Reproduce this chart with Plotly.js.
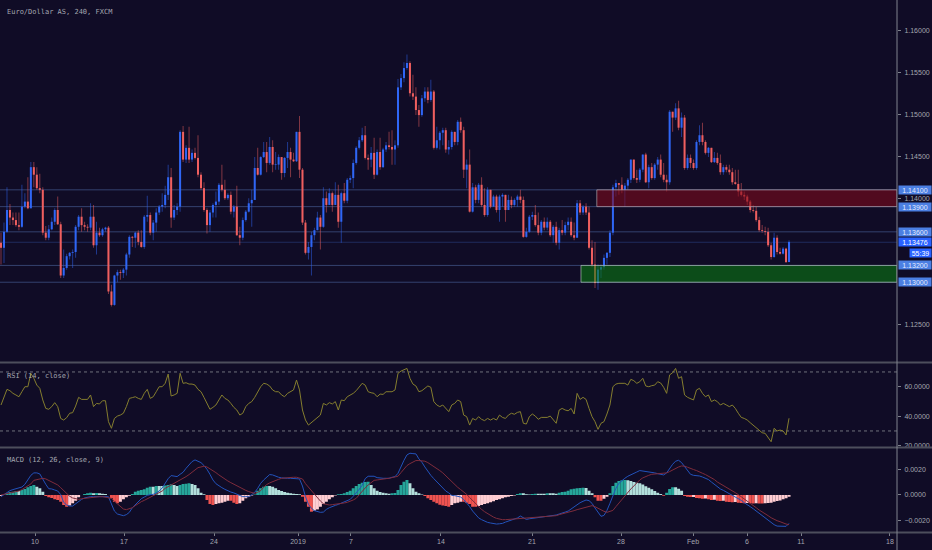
<!DOCTYPE html>
<html>
<head>
<meta charset="utf-8">
<script src="https://cdn.plot.ly/plotly-3.0.1.min.js"></script>
<style>
html,body{margin:0;padding:0;background:#100c26;}
#chart{width:932px;height:550px;}
</style>
</head>
<body>
<div id="chart"></div>
<script>
// ---------------- DATA (EUR/USD, 4h candles, FXCM) ----------------
const opens = [1.1347,1.1341,1.1360,1.1386,1.1377,1.1374,1.1368,1.1366,1.1390,1.1396,
1.1388,1.1437,1.1428,1.1412,1.1410,1.1359,1.1353,1.1363,1.1372,1.1386,
1.1369,1.1308,1.1317,1.1331,1.1335,1.1336,1.1366,1.1378,1.1368,1.1366,
1.1365,1.1378,1.1344,1.1359,1.1356,1.1363,1.1365,1.1289,1.1273,1.1308,
1.1312,1.1311,1.1315,1.1333,1.1354,1.1353,1.1359,1.1348,1.1342,1.1378,
1.1380,1.1359,1.1371,1.1383,1.1390,1.1392,1.1404,1.1425,1.1377,1.1386,
1.1390,1.1479,1.1446,1.1460,1.1446,1.1454,1.1448,1.1428,1.1412,1.1386,
1.1368,1.1383,1.1392,1.1396,1.1416,1.1410,1.1400,1.1404,1.1384,1.1390,
1.1356,1.1353,1.1374,1.1384,1.1394,1.1398,1.1436,1.1428,1.1449,1.1455,
1.1442,1.1461,1.1440,1.1440,1.1449,1.1430,1.1448,1.1455,1.1446,1.1444,
1.1479,1.1434,1.1371,1.1335,1.1342,1.1356,1.1362,1.1377,1.1366,1.1400,
1.1392,1.1406,1.1392,1.1404,1.1372,1.1406,1.1397,1.1422,1.1424,1.1442,
1.1460,1.1469,1.1475,1.1448,1.1446,1.1454,1.1428,1.1455,1.1437,1.1458,
1.1463,1.1461,1.1458,1.1463,1.1532,1.1543,1.1555,1.1561,1.1525,1.1521,
1.1505,1.1499,1.1519,1.1527,1.1517,1.1527,1.1460,1.1469,1.1478,1.1481,
1.1458,1.1461,1.1479,1.1467,1.1491,1.1481,1.1434,1.1440,1.1384,1.1413,
1.1398,1.1416,1.1392,1.1380,1.1410,1.1390,1.1402,1.1386,1.1402,1.1404,
1.1386,1.1398,1.1392,1.1398,1.1402,1.1398,1.1354,1.1360,1.1378,1.1380,
1.1368,1.1359,1.1372,1.1365,1.1372,1.1356,1.1366,1.1347,1.1362,1.1359,
1.1368,1.1372,1.1356,1.1353,1.1394,1.1383,1.1390,1.1383,1.1341,1.1321,
1.1299,1.1315,1.1318,1.1329,1.1335,1.1359,1.1413,1.1418,1.1416,1.1410,
1.1415,1.1422,1.1446,1.1424,1.1422,1.1434,1.1452,1.1419,1.1437,1.1424,
1.1440,1.1446,1.1428,1.1422,1.1419,1.1503,1.1496,1.1507,1.1484,1.1496,
1.1436,1.1448,1.1442,1.1436,1.1467,1.1475,1.1467,1.1454,1.1460,1.1443,
1.1448,1.1442,1.1431,1.1437,1.1434,1.1431,1.1419,1.1417,1.1408,1.1404,
1.1402,1.1396,1.1386,1.1385,1.1374,1.1362,1.1361,1.1360,1.1344,1.1330,
1.1353,1.1336,1.1334,1.1340,1.1324];

const highs = [1.1359,1.1371,1.1413,1.1393,1.1383,1.1383,1.1383,1.1416,1.1406,1.1425,
1.1443,1.1443,1.1437,1.1429,1.1413,1.1367,1.1368,1.1377,1.1388,1.1402,
1.1372,1.1339,1.1334,1.1336,1.1339,1.1368,1.1380,1.1388,1.1372,1.1369,
1.1394,1.1392,1.1372,1.1365,1.1365,1.1366,1.1367,1.1297,1.1309,1.1315,
1.1315,1.1317,1.1335,1.1356,1.1355,1.1360,1.1362,1.1362,1.1380,1.1403,
1.1383,1.1374,1.1388,1.1392,1.1406,1.1415,1.1440,1.1436,1.1392,1.1394,
1.1481,1.1486,1.1463,1.1485,1.1458,1.1460,1.1475,1.1431,1.1419,1.1388,
1.1386,1.1394,1.1408,1.1418,1.1440,1.1422,1.1406,1.1408,1.1392,1.1415,
1.1366,1.1377,1.1386,1.1400,1.1410,1.1449,1.1460,1.1450,1.1467,1.1467,
1.1473,1.1469,1.1455,1.1452,1.1443,1.1449,1.1467,1.1460,1.1454,1.1479,
1.1498,1.1436,1.1374,1.1348,1.1360,1.1365,1.1384,1.1380,1.1413,1.1408,
1.1412,1.1408,1.1419,1.1416,1.1408,1.1418,1.1424,1.1427,1.1446,1.1462,
1.1473,1.1484,1.1486,1.1452,1.1461,1.1472,1.1458,1.1472,1.1460,1.1467,
1.1479,1.1481,1.1469,1.1542,1.1548,1.1562,1.1571,1.1563,1.1547,1.1532,
1.1511,1.1523,1.1532,1.1532,1.1541,1.1529,1.1485,1.1480,1.1484,1.1484,
1.1469,1.1481,1.1479,1.1493,1.1496,1.1485,1.1446,1.1458,1.1418,1.1416,
1.1418,1.1425,1.1412,1.1413,1.1410,1.1404,1.1404,1.1404,1.1406,1.1404,
1.1404,1.1402,1.1400,1.1404,1.1410,1.1402,1.1365,1.1380,1.1384,1.1392,
1.1383,1.1374,1.1377,1.1377,1.1374,1.1368,1.1372,1.1365,1.1374,1.1372,
1.1377,1.1377,1.1371,1.1398,1.1398,1.1392,1.1394,1.1390,1.1350,1.1348,
1.1321,1.1321,1.1333,1.1336,1.1362,1.1416,1.1422,1.1418,1.1425,1.1418,
1.1424,1.1446,1.1440,1.1434,1.1436,1.1452,1.1454,1.1440,1.1442,1.1442,
1.1449,1.1452,1.1442,1.1428,1.1505,1.1502,1.1513,1.1516,1.1502,1.1499,
1.1452,1.1452,1.1446,1.1469,1.1487,1.1490,1.1469,1.1461,1.1460,1.1455,
1.1454,1.1452,1.1440,1.1440,1.1440,1.1436,1.1434,1.1434,1.1418,1.1408,
1.1404,1.1398,1.1392,1.1390,1.1378,1.1368,1.1366,1.1365,1.1347,1.1359,
1.1356,1.1341,1.1342,1.1341,1.1350];

const lows = [1.1321,1.1323,1.1359,1.1368,1.1368,1.1366,1.1362,1.1365,1.1388,1.1387,
1.1388,1.1413,1.1410,1.1406,1.1356,1.1350,1.1350,1.1362,1.1368,1.1368,
1.1305,1.1305,1.1315,1.1327,1.1317,1.1329,1.1362,1.1360,1.1362,1.1360,
1.1362,1.1341,1.1333,1.1354,1.1354,1.1360,1.1286,1.1271,1.1272,1.1300,
1.1303,1.1305,1.1308,1.1329,1.1342,1.1341,1.1344,1.1341,1.1340,1.1372,
1.1356,1.1350,1.1360,1.1380,1.1384,1.1388,1.1398,1.1365,1.1374,1.1380,
1.1384,1.1443,1.1442,1.1442,1.1443,1.1446,1.1425,1.1410,1.1384,1.1358,
1.1360,1.1377,1.1377,1.1392,1.1408,1.1398,1.1398,1.1381,1.1377,1.1355,
1.1344,1.1350,1.1372,1.1383,1.1366,1.1398,1.1427,1.1427,1.1448,1.1431,
1.1440,1.1431,1.1434,1.1434,1.1422,1.1425,1.1436,1.1425,1.1443,1.1443,
1.1424,1.1368,1.1333,1.1327,1.1308,1.1350,1.1362,1.1339,1.1365,1.1383,
1.1392,1.1384,1.1392,1.1365,1.1347,1.1394,1.1394,1.1418,1.1412,1.1440,
1.1458,1.1467,1.1446,1.1434,1.1437,1.1423,1.1427,1.1434,1.1436,1.1455,
1.1458,1.1440,1.1440,1.1460,1.1529,1.1538,1.1553,1.1521,1.1517,1.1499,
1.1485,1.1497,1.1515,1.1513,1.1515,1.1458,1.1458,1.1458,1.1463,1.1454,
1.1452,1.1458,1.1463,1.1463,1.1478,1.1424,1.1412,1.1383,1.1383,1.1394,
1.1394,1.1390,1.1378,1.1378,1.1388,1.1390,1.1383,1.1372,1.1390,1.1372,
1.1386,1.1388,1.1390,1.1390,1.1394,1.1353,1.1353,1.1359,1.1374,1.1366,
1.1356,1.1356,1.1362,1.1362,1.1354,1.1347,1.1344,1.1339,1.1356,1.1356,
1.1362,1.1354,1.1350,1.1353,1.1380,1.1380,1.1380,1.1339,1.1318,1.1293,
1.1291,1.1305,1.1315,1.1321,1.1330,1.1356,1.1402,1.1404,1.1406,1.1390,
1.1410,1.1418,1.1422,1.1418,1.1419,1.1431,1.1418,1.1412,1.1422,1.1422,
1.1434,1.1425,1.1419,1.1408,1.1416,1.1479,1.1493,1.1481,1.1473,1.1434,
1.1434,1.1436,1.1434,1.1434,1.1463,1.1463,1.1452,1.1449,1.1442,1.1442,
1.1440,1.1428,1.1428,1.1431,1.1428,1.1416,1.1416,1.1402,1.1402,1.1398,
1.1392,1.1383,1.1383,1.1372,1.1360,1.1359,1.1356,1.1342,1.1327,1.1329,
1.1333,1.1333,1.1333,1.1323,1.1324];

const closes = [1.1341,1.1360,1.1386,1.1377,1.1374,1.1368,1.1366,1.1390,1.1396,1.1388,
1.1437,1.1428,1.1412,1.1410,1.1359,1.1353,1.1363,1.1372,1.1386,1.1369,
1.1308,1.1317,1.1331,1.1335,1.1336,1.1366,1.1378,1.1368,1.1366,1.1365,
1.1378,1.1344,1.1359,1.1356,1.1363,1.1365,1.1289,1.1273,1.1308,1.1312,
1.1311,1.1315,1.1333,1.1354,1.1353,1.1359,1.1348,1.1342,1.1378,1.1380,
1.1359,1.1371,1.1383,1.1390,1.1392,1.1404,1.1425,1.1377,1.1386,1.1390,
1.1479,1.1446,1.1460,1.1446,1.1454,1.1448,1.1428,1.1412,1.1386,1.1368,
1.1383,1.1392,1.1396,1.1416,1.1410,1.1400,1.1404,1.1384,1.1390,1.1356,
1.1353,1.1374,1.1384,1.1394,1.1398,1.1436,1.1428,1.1449,1.1455,1.1442,
1.1461,1.1440,1.1440,1.1449,1.1430,1.1448,1.1455,1.1446,1.1444,1.1479,
1.1434,1.1371,1.1335,1.1342,1.1356,1.1362,1.1377,1.1366,1.1400,1.1392,
1.1406,1.1392,1.1404,1.1372,1.1406,1.1397,1.1422,1.1424,1.1442,1.1460,
1.1469,1.1475,1.1448,1.1446,1.1454,1.1428,1.1455,1.1437,1.1458,1.1463,
1.1461,1.1458,1.1463,1.1532,1.1543,1.1555,1.1561,1.1525,1.1521,1.1505,
1.1499,1.1519,1.1527,1.1517,1.1527,1.1460,1.1469,1.1478,1.1481,1.1458,
1.1461,1.1479,1.1467,1.1491,1.1481,1.1434,1.1440,1.1384,1.1413,1.1398,
1.1416,1.1392,1.1380,1.1410,1.1390,1.1402,1.1386,1.1402,1.1404,1.1386,
1.1398,1.1392,1.1398,1.1402,1.1398,1.1354,1.1360,1.1378,1.1380,1.1368,
1.1359,1.1372,1.1365,1.1372,1.1356,1.1366,1.1347,1.1362,1.1359,1.1368,
1.1372,1.1356,1.1353,1.1394,1.1383,1.1390,1.1383,1.1341,1.1321,1.1299,
1.1315,1.1318,1.1329,1.1335,1.1359,1.1413,1.1418,1.1416,1.1410,1.1415,
1.1422,1.1446,1.1424,1.1422,1.1434,1.1452,1.1419,1.1437,1.1424,1.1440,
1.1446,1.1428,1.1422,1.1419,1.1503,1.1496,1.1507,1.1484,1.1496,1.1436,
1.1448,1.1442,1.1436,1.1467,1.1475,1.1467,1.1454,1.1460,1.1443,1.1448,
1.1442,1.1431,1.1437,1.1434,1.1431,1.1419,1.1417,1.1408,1.1404,1.1402,
1.1396,1.1386,1.1385,1.1374,1.1362,1.1361,1.1360,1.1344,1.1330,1.1353,
1.1336,1.1334,1.1340,1.1324,1.1348];

const rsi = [47.6,53.2,58.2,57.3,55.5,54.4,53.2,56.6,60.0,60.0,
69.0,65.7,61.1,58.9,51.0,45.3,44.7,46.5,49.2,46.5,
38.5,37.4,39.0,42.0,42.4,46.9,52.8,51.4,51.4,51.4,
54.4,46.5,48.7,48.3,50.5,50.5,36.3,31.8,38.5,40.1,
40.8,42.0,46.5,52.1,52.6,53.2,52.1,51.4,55.5,58.2,
52.1,53.2,56.6,60.0,60.0,62.3,68.6,53.7,54.4,55.5,
69.1,62.3,62.7,61.8,61.8,61.1,58.2,56.6,52.8,48.7,
44.7,46.0,47.6,51.0,54.4,52.1,51.0,48.7,46.0,44.2,
40.8,42.0,46.5,48.7,49.9,52.8,56.6,60.0,62.3,61.8,
60.5,57.8,56.6,56.6,54.4,53.2,55.5,56.6,57.8,64.5,
57.8,44.2,37.4,34.0,35.6,37.4,39.2,40.8,48.7,47.6,
49.2,48.3,49.9,44.2,51.0,50.5,53.2,54.4,55.5,57.3,
60.0,62.3,61.1,56.6,55.9,55.5,53.2,55.0,54.8,56.6,
56.6,56.6,57.8,69.1,70.6,71.3,72.4,65.7,61.8,60.5,
56.6,57.3,58.9,60.5,59.6,49.9,47.6,46.5,47.6,45.3,
43.1,47.6,48.7,51.0,49.9,40.8,39.7,34.0,38.5,37.4,
39.7,37.9,37.0,38.5,37.4,38.5,37.4,40.8,39.2,38.5,
40.8,42.0,41.3,42.6,43.1,35.2,34.7,39.7,41.5,40.1,
37.9,39.2,39.2,39.2,40.1,37.9,35.2,44.2,45.3,44.2,
43.7,45.3,41.5,55.5,51.4,52.8,51.4,45.3,39.7,36.3,
31.1,35.2,36.3,41.5,47.6,60.0,61.8,62.3,62.3,62.3,
61.1,65.0,64.1,62.3,63.4,65.7,60.5,60.0,60.7,61.1,
63.4,62.5,59.6,55.5,68.0,69.5,72.4,65.7,66.8,54.4,
52.8,52.1,51.0,57.8,58.9,55.5,53.2,54.4,49.9,51.0,
49.9,47.6,48.7,47.6,46.5,47.6,45.3,42.0,39.2,38.5,
37.4,35.6,34.0,31.8,30.2,28.8,28.4,25.7,22.7,31.8,
30.0,30.6,30.0,27.3,38.6];

const macdLine = [-0.00013,0.00005,0.00023,0.00034,0.00042,0.00047,0.00055,0.00062,0.00083,0.00117,
0.00153,0.00172,0.00172,0.00164,0.00117,0.00083,0.00049,0.00047,0.00039,0.00031,
0.00003,-0.00057,-0.00078,-0.00086,-0.00086,-0.00068,-0.00049,-0.00034,-0.00023,-0.00016,
-0.00013,-0.00013,-0.00013,-0.00013,-0.00013,-0.00010,-0.00013,-0.00070,-0.00125,-0.00148,
-0.00156,-0.00161,-0.00153,-0.00135,-0.00099,-0.00075,-0.00052,-0.00029,-0.00016,-0.00003,
0.00003,0.00005,0.00016,0.00031,0.00055,0.00091,0.00127,0.00151,0.00148,0.00143,
0.00161,0.00177,0.00208,0.00231,0.00260,0.00273,0.00265,0.00252,0.00229,0.00200,
0.00161,0.00117,0.00088,0.00070,0.00057,0.00044,0.00031,0.00023,0.00016,0.00008,
-0.00003,-0.00013,-0.00013,-0.00013,0.00003,0.00021,0.00052,0.00091,0.00117,0.00138,
0.00159,0.00156,0.00146,0.00138,0.00133,0.00130,0.00130,0.00130,0.00130,0.00127,
0.00125,0.00070,-0.00013,-0.00073,-0.00104,-0.00122,-0.00130,-0.00135,-0.00133,-0.00112,
-0.00099,-0.00088,-0.00081,-0.00073,-0.00062,-0.00055,-0.00044,-0.00034,-0.00010,0.00013,
0.00044,0.00075,0.00127,0.00146,0.00148,0.00146,0.00135,0.00130,0.00130,0.00130,
0.00130,0.00138,0.00143,0.00169,0.00224,0.00270,0.00312,0.00325,0.00322,0.00320,
0.00281,0.00255,0.00218,0.00182,0.00153,0.00127,0.00101,0.00078,0.00055,0.00031,
0.00016,-0.00003,-0.00005,-0.00013,-0.00016,-0.00035,-0.00060,-0.00090,-0.00125,-0.00155,
-0.00178,-0.00192,-0.00205,-0.00213,-0.00218,-0.00224,-0.00226,-0.00224,-0.00221,-0.00211,
-0.00203,-0.00195,-0.00190,-0.00179,-0.00164,-0.00177,-0.00190,-0.00185,-0.00182,-0.00174,
-0.00174,-0.00172,-0.00169,-0.00166,-0.00164,-0.00159,-0.00156,-0.00148,-0.00143,-0.00133,
-0.00125,-0.00107,-0.00096,-0.00073,-0.00060,-0.00049,-0.00039,-0.00044,-0.00065,-0.00101,
-0.00135,-0.00166,-0.00159,-0.00120,-0.00065,-0.00003,0.00052,0.00091,0.00112,0.00130,
0.00146,0.00159,0.00169,0.00179,0.00190,0.00187,0.00185,0.00182,0.00179,0.00172,
0.00166,0.00161,0.00156,0.00172,0.00208,0.00239,0.00263,0.00270,0.00252,0.00221,
0.00192,0.00161,0.00153,0.00151,0.00148,0.00140,0.00133,0.00120,0.00101,0.00081,
0.00062,0.00047,0.00036,0.00023,0.00010,0.00000,-0.00010,-0.00023,-0.00042,-0.00060,
-0.00073,-0.00091,-0.00107,-0.00125,-0.00143,-0.00161,-0.00179,-0.00198,-0.00216,-0.00231,
-0.00242,-0.00242,-0.00244,-0.00244,-0.00221];

const signalLine = [0.00000,0.00005,0.00010,0.00013,0.00018,0.00026,0.00031,0.00042,0.00055,0.00070,
0.00086,0.00114,0.00120,0.00127,0.00130,0.00125,0.00114,0.00101,0.00091,0.00078,
0.00057,0.00034,0.00010,-0.00010,-0.00023,-0.00031,-0.00034,-0.00029,-0.00026,-0.00021,
-0.00021,-0.00018,-0.00016,-0.00013,-0.00013,-0.00016,-0.00021,-0.00026,-0.00049,-0.00070,
-0.00094,-0.00109,-0.00114,-0.00107,-0.00099,-0.00083,-0.00065,-0.00052,-0.00042,-0.00029,
-0.00018,-0.00008,0.00005,0.00018,0.00031,0.00052,0.00065,0.00075,0.00088,0.00099,
0.00112,0.00125,0.00143,0.00159,0.00179,0.00198,0.00213,0.00218,0.00224,0.00218,
0.00205,0.00190,0.00174,0.00156,0.00138,0.00120,0.00109,0.00096,0.00083,0.00073,
0.00060,0.00049,0.00036,0.00026,0.00021,0.00013,0.00021,0.00034,0.00060,0.00081,
0.00094,0.00104,0.00117,0.00122,0.00130,0.00133,0.00135,0.00138,0.00138,0.00138,
0.00133,0.00125,0.00088,0.00060,0.00029,0.00000,-0.00021,-0.00047,-0.00068,-0.00075,
-0.00078,-0.00075,-0.00073,-0.00070,-0.00068,-0.00062,-0.00057,-0.00049,-0.00039,-0.00026,
0.00003,0.00031,0.00055,0.00078,0.00099,0.00114,0.00117,0.00122,0.00125,0.00127,
0.00130,0.00135,0.00140,0.00146,0.00174,0.00200,0.00229,0.00244,0.00257,0.00268,
0.00268,0.00268,0.00263,0.00252,0.00237,0.00224,0.00205,0.00190,0.00172,0.00148,
0.00125,0.00104,0.00081,0.00060,0.00042,0.00025,0.00005,-0.00020,-0.00045,-0.00070,
-0.00092,-0.00112,-0.00130,-0.00145,-0.00160,-0.00172,-0.00182,-0.00188,-0.00192,-0.00192,
-0.00190,-0.00190,-0.00187,-0.00185,-0.00182,-0.00182,-0.00179,-0.00177,-0.00174,-0.00172,
-0.00169,-0.00169,-0.00169,-0.00166,-0.00164,-0.00161,-0.00161,-0.00153,-0.00148,-0.00140,
-0.00133,-0.00130,-0.00122,-0.00114,-0.00109,-0.00104,-0.00099,-0.00091,-0.00083,-0.00091,
-0.00104,-0.00120,-0.00127,-0.00135,-0.00127,-0.00120,-0.00091,-0.00062,-0.00034,-0.00003,
0.00023,0.00047,0.00070,0.00094,0.00117,0.00133,0.00146,0.00153,0.00161,0.00164,
0.00166,0.00169,0.00169,0.00172,0.00182,0.00195,0.00211,0.00218,0.00226,0.00224,
0.00216,0.00205,0.00198,0.00190,0.00182,0.00169,0.00159,0.00146,0.00135,0.00120,
0.00101,0.00088,0.00075,0.00062,0.00049,0.00036,0.00018,0.00003,-0.00013,-0.00029,
-0.00047,-0.00065,-0.00081,-0.00099,-0.00117,-0.00130,-0.00146,-0.00161,-0.00177,-0.00190,
-0.00200,-0.00208,-0.00218,-0.00226,-0.00231];

const macdHist = [-0.00008,0.00000,0.00013,0.00023,0.00026,0.00031,0.00031,0.00039,0.00047,0.00060,
0.00070,0.00078,0.00065,0.00052,0.00026,-0.00008,-0.00018,-0.00023,-0.00034,-0.00039,
-0.00052,-0.00078,-0.00091,-0.00081,-0.00065,-0.00044,-0.00018,0.00000,0.00008,0.00013,
0.00018,0.00013,0.00016,0.00013,0.00010,0.00008,0.00000,-0.00026,-0.00052,-0.00065,
-0.00052,-0.00034,-0.00018,-0.00005,0.00008,0.00026,0.00034,0.00039,0.00044,0.00057,
0.00065,0.00065,0.00070,0.00070,0.00070,0.00073,0.00078,0.00083,0.00078,0.00070,
0.00078,0.00086,0.00088,0.00091,0.00086,0.00078,0.00052,0.00018,0.00005,-0.00039,
-0.00070,-0.00078,-0.00070,-0.00065,-0.00060,-0.00052,-0.00044,-0.00044,-0.00060,-0.00070,
-0.00065,-0.00044,-0.00026,-0.00013,-0.00003,0.00003,0.00034,0.00052,0.00065,0.00070,
0.00070,0.00065,0.00052,0.00039,0.00031,0.00023,0.00018,0.00013,0.00010,0.00008,
0.00005,-0.00013,-0.00052,-0.00091,-0.00130,-0.00122,-0.00112,-0.00091,-0.00070,-0.00052,
-0.00034,-0.00018,-0.00003,0.00005,0.00008,0.00013,0.00023,0.00034,0.00052,0.00070,
0.00086,0.00096,0.00101,0.00104,0.00078,0.00052,0.00034,0.00023,0.00018,0.00013,
0.00010,0.00013,0.00016,0.00039,0.00078,0.00104,0.00117,0.00091,0.00052,0.00026,
0.00013,0.00003,-0.00008,-0.00026,-0.00039,-0.00052,-0.00065,-0.00075,-0.00081,-0.00086,
-0.00091,-0.00078,-0.00065,-0.00060,-0.00052,-0.00052,-0.00060,-0.00070,-0.00091,-0.00091,
-0.00086,-0.00078,-0.00070,-0.00065,-0.00057,-0.00049,-0.00039,-0.00034,-0.00026,-0.00018,
-0.00013,-0.00008,-0.00003,0.00008,0.00013,0.00013,0.00005,0.00003,0.00008,0.00010,
0.00010,0.00010,0.00010,0.00013,0.00013,0.00013,0.00010,0.00018,0.00023,0.00026,
0.00034,0.00044,0.00049,0.00052,0.00055,0.00057,0.00055,0.00034,0.00013,-0.00018,
-0.00044,-0.00045,-0.00030,-0.00013,0.00013,0.00070,0.00096,0.00109,0.00114,0.00117,
0.00114,0.00109,0.00101,0.00096,0.00091,0.00081,0.00068,0.00057,0.00044,0.00031,
0.00018,0.00008,-0.00005,0.00018,0.00047,0.00060,0.00060,0.00049,0.00034,-0.00008,
-0.00013,-0.00016,-0.00015,-0.00023,-0.00026,-0.00029,-0.00027,-0.00034,-0.00039,-0.00037,
-0.00044,-0.00047,-0.00045,-0.00052,-0.00055,-0.00057,-0.00055,-0.00060,-0.00062,-0.00065,
-0.00063,-0.00065,-0.00067,-0.00064,-0.00066,-0.00067,-0.00065,-0.00062,-0.00060,-0.00052,
-0.00047,-0.00042,-0.00034,-0.00026,-0.00013];

// date ticks: bar position where each labelled day begins
const dateTickBars = [11.39, 41.21, 71.36, 99.50, 117.25, 147.40, 177.89, 207.71, 231.83, 249.92, 268.01, 297.82];
const dateTickLabels = ["10", "17", "24", "2019", "7", "14", "21", "28", "Feb", "6", "11", "18"];

// plain price-scale ticks (1.13000 and 1.13500 are shown by the level labels)
const priceTicks = [1.125, 1.140, 1.145, 1.150, 1.155, 1.160];
const rsiTicks = [20, 40, 60];
const macdTicks = [-0.002, 0, 0.002];
const rsiBands = [70, 30];

const levelLines = [1.141, 1.139, 1.136, 1.132, 1.130];
const lastPrice = 1.13476;
const countdownText = "55:39";
const resistanceZone = [1.139, 1.141];
const supportZone = [1.130, 1.132];
const resistanceFromBar = 199.6;
const supportFromBar = 194.3;

// ---------------- DRAWING ----------------
const X_RANGE = [-0.335, 300.17];
const BG = '#100c26';
const UP = '#2f66f5', DOWN = '#ef5f5f';
const UP_WICK = 'rgba(47,102,245,0.5)', DOWN_WICK = 'rgba(239,95,95,0.5)';
const TXT = '#a3a6af';
const AXC = '#7d808b';
const MIN_BODY = 0.00008;

const idx = closes.map((_, i) => i);
const isUp = closes.map((c, i) => c >= opens[i]);
const wickBase = idx.map(i => Math.min(lows[i], opens[i], closes[i]));
const wickLen = idx.map(i => Math.max(highs[i], opens[i], closes[i]) - wickBase[i]);
const bodyBase = idx.map(i => Math.min(opens[i], closes[i]));
const bodyLen = idx.map(i => Math.max(Math.abs(closes[i] - opens[i]), MIN_BODY));

const histColors = macdHist.map((h, i) => {
  const prev = i > 0 ? macdHist[i - 1] : h - 1;
  if (h >= 0) return prev < h ? '#26a69a' : '#b2dfdb';
  return prev < h ? '#ffcdd2' : '#ef5350';
});

const traces = [
  {type: 'bar', x: idx, base: wickBase, y: wickLen, width: 0.34, xaxis: 'x', yaxis: 'y',
   marker: {color: isUp.map(u => u ? UP_WICK : DOWN_WICK), line: {width: 0}}, hoverinfo: 'skip'},
  {type: 'bar', x: idx, base: bodyBase, y: bodyLen, width: 0.68, xaxis: 'x', yaxis: 'y',
   marker: {color: isUp.map(u => u ? UP : DOWN), line: {width: 0}}, hoverinfo: 'skip'},
  {type: 'scatter', mode: 'lines', x: idx, y: rsi, xaxis: 'x', yaxis: 'y2',
   line: {color: '#857e2f', width: 1}, hoverinfo: 'skip'},
  {type: 'bar', x: idx, y: macdHist, width: 1, xaxis: 'x', yaxis: 'y3',
   marker: {color: histColors, line: {width: 0}}, hoverinfo: 'skip'},
  {type: 'scatter', mode: 'lines', x: idx, y: macdLine, xaxis: 'x', yaxis: 'y3',
   line: {color: '#2353bb', width: 1}, hoverinfo: 'skip'},
  {type: 'scatter', mode: 'lines', x: idx, y: signalLine, xaxis: 'x', yaxis: 'y3',
   line: {color: '#7e2c3c', width: 1}, hoverinfo: 'skip'}
];

const tickFont = {family: 'Liberation Sans, Arial, sans-serif', size: 7, color: TXT};
const yCommon = {side: 'right', showgrid: false, zeroline: false, showline: false,
  ticks: 'outside', ticklen: 3, tickcolor: AXC, tickwidth: 1, tickfont: tickFont,
  ticklabelstandoff: 2, fixedrange: true};

const shapes = [];
levelLines.forEach(l => shapes.push({type: 'line', xref: 'paper', x0: 0, x1: 1, yref: 'y', y0: l, y1: l,
  line: {color: '#34426f', width: 1}, layer: 'below'}));
shapes.push({type: 'line', xref: 'paper', x0: 0, x1: 1, yref: 'y', y0: lastPrice, y1: lastPrice,
  line: {color: '#1f2b5e', width: 1}, layer: 'below'});
shapes.push({type: 'rect', xref: 'x', x0: resistanceFromBar, x1: X_RANGE[1], yref: 'y',
  y0: resistanceZone[0], y1: resistanceZone[1], fillcolor: 'rgba(130,8,26,0.58)',
  line: {color: 'rgba(190,190,195,0.6)', width: 1}, layer: 'above'});
shapes.push({type: 'rect', xref: 'x', x0: supportFromBar, x1: X_RANGE[1], yref: 'y',
  y0: supportZone[0], y1: supportZone[1], fillcolor: 'rgba(10,122,16,0.58)',
  line: {color: 'rgba(200,210,205,0.6)', width: 1}, layer: 'above'});
rsiBands.forEach(b => shapes.push({type: 'line', xref: 'paper', x0: 0, x1: 1, yref: 'y2', y0: b, y1: b,
  line: {color: '#6e717c', width: 1, dash: 'dot'}, layer: 'below'}));
// panel separators and right scale line
[0.3186, 0.1588, -0.001].forEach(p => shapes.push({type: 'line', xref: 'paper', x0: 0, x1: 1.04,
  yref: 'paper', y0: p, y1: p, line: {color: '#4d4e5c', width: 2}}));
shapes.push({type: 'line', xref: 'paper', x0: 1, x1: 1, yref: 'paper', y0: -0.04, y1: 1,
  line: {color: '#80838e', width: 1}});

const annotations = [
  {xref: 'paper', yref: 'paper', x: 0.0056, y: 0.9769, xanchor: 'left', yanchor: 'middle', showarrow: false,
   text: 'Euro/Dollar AS, 240, FXCM', font: {family: 'DejaVu Sans Mono, monospace', size: 7, color: TXT}},
  {xref: 'paper', yref: 'paper', x: 0.0056, y: 0.2938, xanchor: 'left', yanchor: 'middle', showarrow: false,
   text: 'RSI (14, close)', font: {family: 'DejaVu Sans Mono, monospace', size: 7, color: TXT}},
  {xref: 'paper', yref: 'paper', x: 0.0056, y: 0.1353, xanchor: 'left', yanchor: 'middle', showarrow: false,
   text: 'MACD (12, 26, close, 9)', font: {family: 'DejaVu Sans Mono, monospace', size: 7, color: TXT}}
];
levelLines.forEach(l => annotations.push({xref: 'paper', x: 1, xanchor: 'left', xshift: 1, yref: 'y', y: l,
  yanchor: 'middle', showarrow: false, text: l.toFixed(5), bgcolor: '#4b7fe2', width: 32, height: 8,
  borderpad: 0, align: 'center', font: {family: 'Liberation Sans, Arial, sans-serif', size: 7, color: '#e4ebff'}}));
annotations.push({xref: 'paper', x: 1, xanchor: 'left', xshift: 1, yref: 'y', y: lastPrice,
  yanchor: 'middle', showarrow: false, text: lastPrice.toFixed(5), bgcolor: '#2962ff', width: 32, height: 8,
  borderpad: 0, font: {family: 'Liberation Sans, Arial, sans-serif', size: 7, color: '#ffffff'}});
annotations.push({xref: 'paper', x: 1, xanchor: 'left', xshift: 12, yref: 'y', y: lastPrice, yshift: -11,
  yanchor: 'middle', showarrow: false, text: countdownText, bgcolor: '#2962ff', width: 21, height: 8,
  borderpad: 0, font: {family: 'Liberation Sans, Arial, sans-serif', size: 7, color: '#ffffff'}});

const layout = {
  width: 932, height: 550,
  paper_bgcolor: BG, plot_bgcolor: BG,
  margin: {l: 0, r: 35, t: 0, b: 18, pad: 0},
  showlegend: false, barmode: 'overlay', hovermode: false,
  font: {family: 'Liberation Sans, Arial, sans-serif', color: TXT},
  xaxis: {range: X_RANGE, anchor: 'y3', tickmode: 'array', tickvals: dateTickBars, ticktext: dateTickLabels,
    ticks: 'outside', ticklen: 3, tickcolor: AXC, tickfont: tickFont, showgrid: false, zeroline: false,
    showline: false, fixedrange: true},
  yaxis: Object.assign({}, yCommon, {domain: [0.3195, 1], range: [1.1205, 1.1636],
    tickmode: 'array', tickvals: priceTicks, tickformat: '.5f'}),
  yaxis2: Object.assign({}, yCommon, {domain: [0.1607, 0.3167], range: [19.46, 75.73],
    tickmode: 'array', tickvals: rsiTicks, tickformat: '.4f'}),
  yaxis3: Object.assign({}, yCommon, {domain: [0, 0.1570], range: [-0.00288, 0.00362],
    tickmode: 'array', tickvals: macdTicks, tickformat: '.4f'}),
  shapes: shapes,
  annotations: annotations
};

Plotly.newPlot('chart', traces, layout, {staticPlot: true, displayModeBar: false});
</script>
</body>
</html>
